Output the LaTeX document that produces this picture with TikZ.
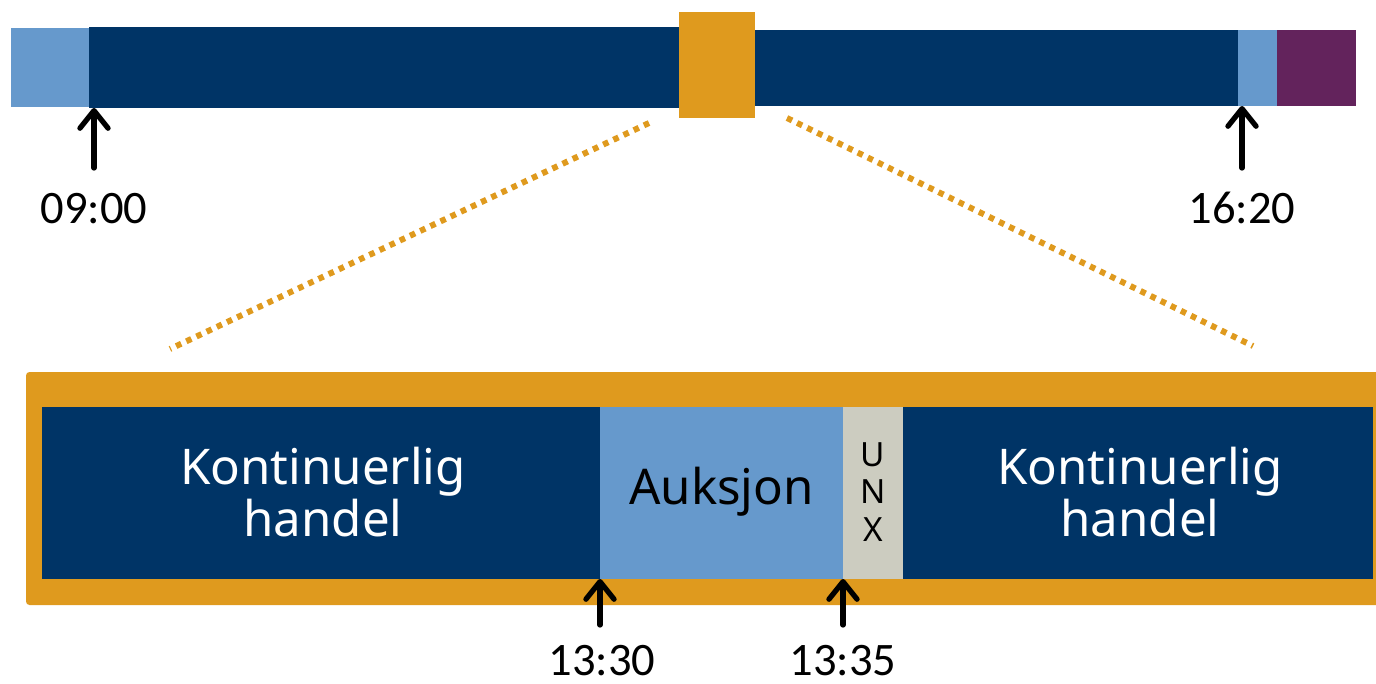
\documentclass[tikz,border=0pt]{standalone}
\usepackage{fontspec}
\setmainfont{Carlito}
\newfontfamily\labelfont{Noto Sans}
\usetikzlibrary{arrows.meta,fit}
\definecolor{navy}{RGB}{0,52,102}
\definecolor{skyblue}{RGB}{102,153,204}
\definecolor{amber}{RGB}{223,154,30}
\definecolor{plum}{RGB}{99,35,92}
\definecolor{stone}{RGB}{204,204,192}
\begin{document}
\begin{tikzpicture}[x=0.02cm,y=-0.02cm,
  blk/.style={inner sep=0pt,outer sep=0pt,draw=none},
  arr/.style={draw=black,line width=3pt,line cap=round,
    -{Straight Barb[length=10pt,width=16pt,line cap=round,line join=round]}},
  timelbl/.style={anchor=base,inner sep=0pt,font=\fontsize{26.5}{30}\selectfont},
  phase/.style={text=white,align=center,font=\labelfont\fontsize{28}{30}\selectfont},
  zoomline/.style={draw=amber,line width=3.4pt,dash pattern=on 3.2pt off 3.2pt}]
\useasboundingbox (0,0) rectangle (1376,683);

% trading day overview bar
\node[blk,fill=skyblue,fit={(11,28)(89,107)}] (pre) {};
\node[blk,fill=navy,fit={(89,27)(679,108)}] (contA) {};
\node[blk,fill=navy,fit={(755,30)(1238,106)}] (contB) {};
\node[blk,fill=skyblue,fit={(1238,30)(1277,106)}] (close) {};
\node[blk,fill=plum,fit={(1277,30)(1356,106)}] (post) {};
\node[blk,fill=amber,fit={(679,12)(755,118)}] (mid) {};

% opening and closing times
\node[timelbl] (t0900) at (94,223) {09:00};
\node[timelbl] (t1620) at (1242,223) {16:20};
\coordinate (a0900) at (94,168);
\coordinate (a1620) at (1242,168);
\draw[arr] (a0900) -- (a0900 |- contA.south);
\draw[arr] (a1620) -- (a1620 |- close.south);

% zoom-in guide lines
\coordinate (zl) at (170,349);
\coordinate (zr) at (1253,346);
\draw[zoomline] ([xshift=-0.6cm,yshift=-0.1cm]mid.south west) -- (zl);
\draw[zoomline] ([xshift=0.64cm,yshift=0cm]mid.south east) -- (zr);

% detailed midday schedule
\fill[amber,rounded corners=2pt] (26,372) rectangle (1400,605);
\node[blk,fill=navy,fit={(42,407)(600,579)}] (kA) {};
\node[blk,fill=skyblue,fit={(600,407)(843,579)}] (auk) {};
\node[blk,fill=stone,fit={(843,407)(903,579)}] (unx) {};
\node[blk,fill=navy,fit={(903,407)(1373,579)}] (kB) {};

\node[phase] at ([xshift=0.04cm,yshift=0.02cm]kA.center) {Kontinuerlig\\handel};
\node[phase] at ([xshift=0.04cm,yshift=0.02cm]kB.center) {Kontinuerlig\\handel};
\node[phase,text=black] at ([yshift=0.02cm]auk.center) {Auksjon};
\node[align=center,inner sep=0pt,font=\labelfont\fontsize{19}{21.5}\selectfont] at ([yshift=0.02cm]unx.center) {U\\N\\X};

\node[timelbl] (t1330) at (602,675) {13:30};
\node[timelbl] (t1335) at (843,675) {13:35};
\coordinate (a1330) at (600,625);
\coordinate (a1335) at (843,625);
\draw[arr] (a1330) -- (a1330 |- auk.south);
\draw[arr] (a1335) -- (a1335 |- unx.south);
\end{tikzpicture}
\end{document}
